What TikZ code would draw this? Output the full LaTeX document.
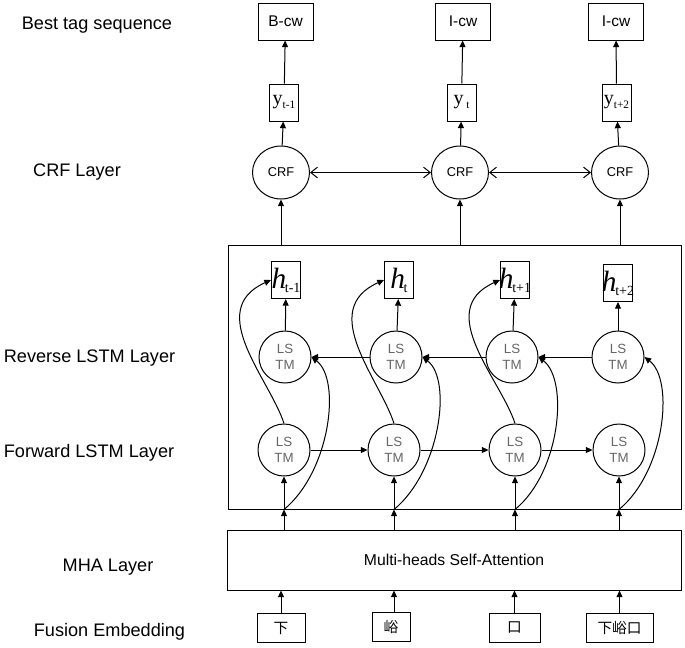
\documentclass[tikz,border=0pt]{standalone}
\usepackage{fontspec}
\setmainfont{Liberation Sans}
\newfontfamily\timesfont{Liberation Serif}
\newfontfamily\cjk{Noto Sans CJK SC}
\usepackage{tikz}
\usetikzlibrary{arrows.meta,shapes.geometric}

\newcommand{\hlab}[1]{\makebox[0pt]{\timesfont\fontsize{22}{22}\selectfont\itshape h\kern-1pt\raisebox{-3pt}{\fontsize{10.5}{10.5}\selectfont\upshape #1}}}
\newcommand{\ylab}[1]{\makebox[0pt]{\timesfont\fontsize{15}{15}\selectfont y\raisebox{-3pt}{\fontsize{8.5}{8.5}\selectfont #1}}}

\begin{document}
\begin{tikzpicture}[x=0.75pt,y=-0.75pt,line width=0.75pt,
	lbl/.style={font=\fontsize{13.6}{16}\selectfont},
	tagbox/.style={draw, minimum width=41.25pt, minimum height=27.75pt, inner sep=0pt, font=\fontsize{11.6}{13}\selectfont},
	smallbox/.style={draw, minimum width=21.75pt, minimum height=27.75pt, inner sep=0pt},
	crfnode/.style={draw, ellipse, minimum width=42.75pt, minimum height=39.75pt, inner sep=0pt, font=\fontsize{9.6}{11}\selectfont},
	lstm/.style={draw, circle, minimum size=39pt, inner sep=0pt, align=center, text=black!60, font=\fontsize{10}{11.5}\selectfont},
	layerbox/.style={draw, inner sep=0pt},
	charbox/.style={draw, minimum height=21.75pt, inner sep=0pt, font=\cjk\fontsize{11}{13}\selectfont},
	arr/.style={-{Triangle[length=5pt,width=4.5pt]}},
	crfarr/.style={{Straight Barb[length=5pt,width=8pt]}-{Straight Barb[length=5pt,width=8pt]}}]
	\useasboundingbox (0,0) rectangle (685,647);

	% layer names
	\node[lbl] (lbest) at (97,25) {Best tag sequence};
	\node[lbl] (lcrf) at (77,172) {CRF Layer};
	\node[lbl] (lrev) at (89.5,358) {Reverse LSTM Layer};
	\node[lbl] (lfwd) at (89,453) {Forward LSTM Layer};
	\node[lbl] (lmha) at (108,567) {MHA Layer};
	\node[lbl] (lemb) at (109.5,632) {Fusion Embedding};

	% tags and CRF
	\node[tagbox] (tag1) at (285.5,21.5) {B-cw};
	\node[tagbox] (tag2) at (463,21.5) {I-cw};
	\node[tagbox] (tag3) at (616,21.5) {I-cw};
	\node[smallbox] (y1) at (284,102.5) {\ylab{t-1}};
	\node[smallbox] (y2) at (461.5,102.5) {\ylab{\ t}};
	\node[smallbox] (y3) at (616.5,102.5) {\ylab{t+2}};
	\node[crfnode] (crf1) at (281,172.5) {CRF};
	\node[crfnode] (crf2) at (460,172.5) {CRF};
	\node[crfnode] (crf3) at (620,172.5) {CRF};
	\draw[arr] (y1) -- (tag1);
	\draw[arr] (y2) -- (tag2);
	\draw[arr] (y3) -- (tag3);
	\draw[arr] (crf1) -- (y1);
	\draw[arr] (crf2) -- (y2);
	\draw[arr] (crf3) -- (y3);
	\draw[crfarr] (crf1) -- (crf2);
	\draw[crfarr] (crf2) -- (crf3);

	% BiLSTM
	\node[layerbox, minimum width=339.75pt, minimum height=198pt] (bilstm) at (454.5,377) {};
	\node[smallbox] (h1) at (286,280) {\hlab{t-1}};
	\node[smallbox] (h2) at (399,280) {\hlab{t}};
	\node[smallbox] (h3) at (515,280) {\hlab{t+1}};
	\node[smallbox] (h4) at (618,283) {\hlab{t+2}};
	\node[lstm] (r1) at (285,357) {LS\\TM};
	\node[lstm] (r2) at (396,357) {LS\\TM};
	\node[lstm] (r3) at (512,357) {LS\\TM};
	\node[lstm] (r4) at (618,357) {LS\\TM};
	\node[lstm] (f1) at (284,450) {LS\\TM};
	\node[lstm] (f2) at (394,450) {LS\\TM};
	\node[lstm] (f3) at (515,450) {LS\\TM};
	\node[lstm] (f4) at (619,450) {LS\\TM};
	\draw[arr] (crf1 |- bilstm.north) -- (crf1);
	\draw[arr] (crf2 |- bilstm.north) -- (crf2);
	\draw[arr] (crf3 |- bilstm.north) -- (crf3);
	\draw[arr] (r1) -- (h1);
	\draw[arr] (r2) -- (h2);
	\draw[arr] (r3) -- (h3);
	\draw[arr] (r4) -- (h4);
	\draw[arr] (r2) -- (r1);
	\draw[arr] (r3) -- (r2);
	\draw[arr] (r4) -- (r3);
	\draw[arr] (f1) -- (f2);
	\draw[arr] (f2) -- (f3);
	\draw[arr] (f3) -- (f4);
	\draw[arr] (f1 |- bilstm.south) -- (f1);
	\draw[arr] (f2 |- bilstm.south) -- (f2);
	\draw[arr] (f3 |- bilstm.south) -- (f3);
	\draw[arr] (f4 |- bilstm.south) -- (f4);
	% forward state up to the output
	\draw[arr] (f1.north) .. controls +(-14,-44) and +(-67,30) .. (h1.west);
	\draw[arr] (f2.north) .. controls +(-14,-44) and +(-67,30) .. (h2.west);
	\draw[arr] (f3.north) .. controls +(-14,-44) and +(-67,30) .. (h3.west);
	% input into the reverse layer
	\draw[arr] (f1 |- bilstm.south) .. controls +(46,-38) and +(30,23) .. (r1.east);
	\draw[arr] (f2 |- bilstm.south) .. controls +(46,-38) and +(30,23) .. (r2.east);
	\draw[arr] (f3 |- bilstm.south) .. controls +(46,-38) and +(30,23) .. (r3.east);
	\draw[arr] (f4 |- bilstm.south) .. controls +(46,-38) and +(30,23) .. (r4.east);

	% MHA and embedding
	\node[layerbox, minimum width=340.5pt, minimum height=45pt, font=\fontsize{11.8}{14}\selectfont] (mha) at (454,560) {Multi-heads Self-Attention};
	\node[charbox, minimum width=36pt] (e1) at (281,628) {下};
	\node[charbox, minimum width=28.5pt] (e2) at (391,627) {峪};
	\node[charbox, minimum width=38.25pt] (e3) at (514.5,628) {口};
	\node[charbox, minimum width=50.25pt] (e4) at (619.5,628) {下峪口};
	\draw[arr] (f1 |- mha.north) -- (f1 |- bilstm.south);
	\draw[arr] (f2 |- mha.north) -- (f2 |- bilstm.south);
	\draw[arr] (f3 |- mha.north) -- (f3 |- bilstm.south);
	\draw[arr] (f4 |- mha.north) -- (f4 |- bilstm.south);
	\draw[arr] (e1) -- (e1 |- mha.south);
	\draw[arr] (e2.north -| f2) -- (f2 |- mha.south);
	\draw[arr] (e3) -- (e3 |- mha.south);
	\draw[arr] (e4) -- (e4 |- mha.south);
\end{tikzpicture}
\end{document}
